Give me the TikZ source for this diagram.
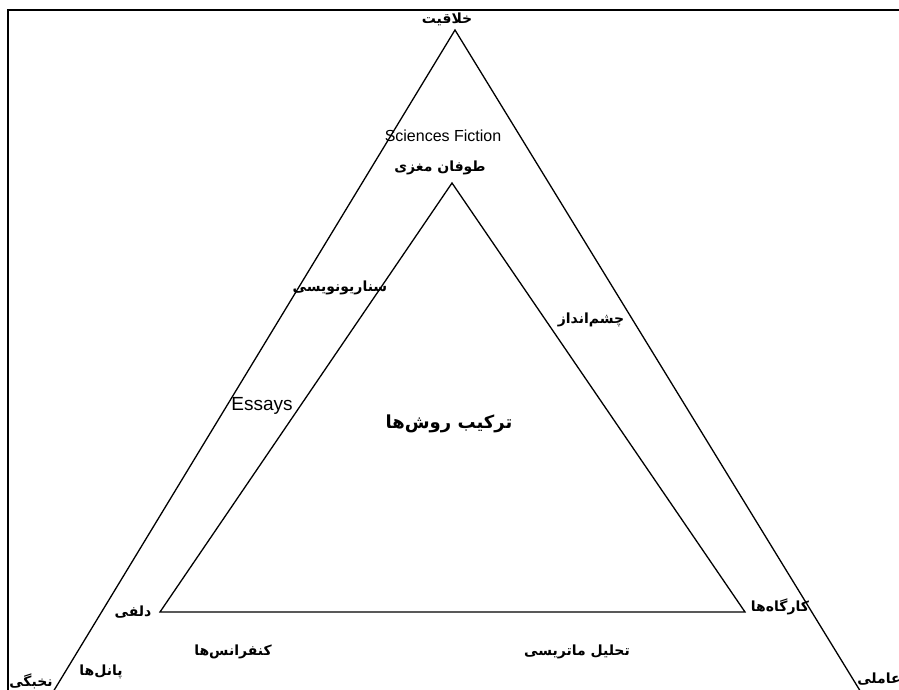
\documentclass[tikz,border=0pt]{standalone}
\usepackage{fontspec}
\setmainfont{Liberation Sans}
\newfontfamily\arabicfont[Script=Arabic]{DejaVu Sans}
\TeXXeTstate=1
\usetikzlibrary{positioning}
\newcommand{\fatxt}[1]{\beginR #1\endR}
\tikzset{
  frame/.style={line width=2.5pt,color=black},
  tri/.style={line width=1.3pt,color=black,line join=miter},
  fa/.style={font={\arabicfont\bfseries\fontsize{#1}{#1}\selectfont},inner sep=1pt,text=black},
  fa/.default=14,
  en/.style={font={\fontsize{#1}{#1}\selectfont},inner sep=1pt,text=black},
  en/.default=16,
}

\begin{document}
\begin{tikzpicture}[x=1pt,y=-1pt]
    \useasboundingbox (0,0) rectangle (899,690);
    % page frame (right and bottom edges lie outside the picture)
    \draw[frame] (8,700) -- (8,10) -- (905,10);
    % outer triangle
    \coordinate (oTop) at (455,30);
    \coordinate (oLeft) at (36,720);
    \coordinate (oRight) at (878,720);
    \draw[tri] (oLeft) -- (oTop) -- (oRight) -- cycle;
    % inner triangle
    \coordinate (iTop) at (452,183);
    \coordinate (iLeft) at (160,612);
    \coordinate (iRight) at (745,612);
    \draw[tri] (iLeft) -- (iTop) -- (iRight) -- cycle;
    % corner labels
    \node[fa] (creat) at (447,19) {\fatxt{خلاقیت}};
    \node[fa] (brain) at (440,168) {\fatxt{طوفان مغزی}};
    \node[fa] (delphi) at (133,612) {\fatxt{دلفی}};
    \node[fa] (works) at (780,607) {\fatxt{کارگاه‌ها}};
    \node[fa] (elite) at (31,681) {\fatxt{نخبگی}};
    \node[fa] (agent) at (879,679) {\fatxt{عاملی}};
    % side labels
    \node[en] (scifi) at (443,136) {Sciences Fiction};
    \node[en=19] (essay) at (262,406) {Essays};
    \node[fa] (scen) at (340,288) {\fatxt{سناریونویسی}};
    \node[fa] (vision) at (591,320) {\fatxt{چشم‌انداز}};
    \node[fa] (conf) at (233,652) {\fatxt{کنفرانس‌ها}};
    \node[fa] (matrix) at (577,652) {\fatxt{تحلیل ماتریسی}};
    \node[fa] (panel) at (101,672) {\fatxt{پانل‌ها}};
    % centre
    \node[fa=18] (mix) at (449,424) {\fatxt{ترکیب روش‌ها}};
  \end{tikzpicture}
\end{document}
